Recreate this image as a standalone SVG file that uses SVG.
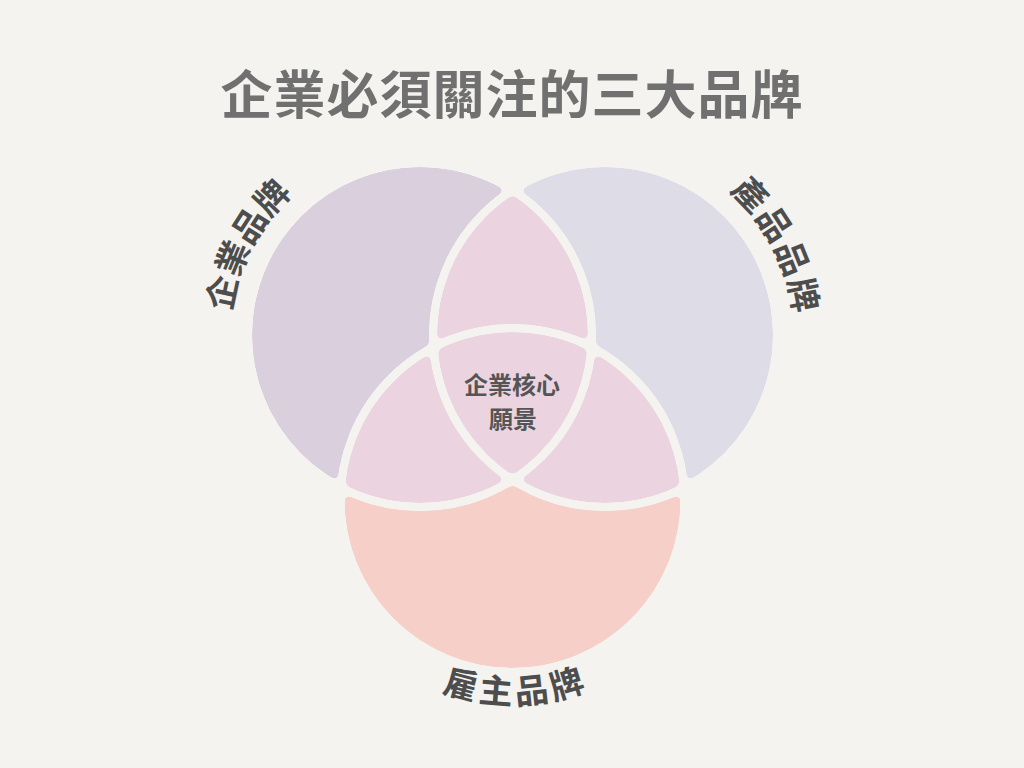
<svg xmlns="http://www.w3.org/2000/svg" xmlns:xlink="http://www.w3.org/1999/xlink" width="1024" height="768" viewBox="0 0 1024 768">
  <style>
    .title { font-family: "Noto Sans CJK TC", "Noto Sans CJK SC", sans-serif; font-size: 52px; font-weight: 700; fill: #707070; letter-spacing: 1px; }
    .label { font-family: "Noto Sans CJK TC", "Noto Sans CJK SC", sans-serif; font-size: 34px; font-weight: 700; fill: #4d4d4d; }
    .core { font-family: "Noto Sans CJK TC", "Noto Sans CJK SC", sans-serif; font-size: 24px; font-weight: 700; fill: #555555; }
    .gap { fill: none; stroke: #000; stroke-width: 8; }
  </style>
  <defs>
    <circle id="c1" cx="420" cy="335" r="172"/>
    <circle id="c2" cx="605" cy="335" r="172"/>
    <circle id="c3" cx="512.5" cy="500" r="172"/>
    <clipPath id="clip1"><use xlink:href="#c1"/></clipPath>
    <clipPath id="clip2"><use xlink:href="#c2"/></clipPath>
    <mask id="gaps" maskUnits="userSpaceOnUse" x="0" y="0" width="1024" height="768">
      <rect x="0" y="0" width="1024" height="768" fill="#fff"/>
      <use xlink:href="#c1" class="gap"/>
      <use xlink:href="#c2" class="gap"/>
      <use xlink:href="#c3" class="gap"/>
    </mask>
    <filter id="round" x="0" y="0" width="1024" height="768" filterUnits="userSpaceOnUse">
      <feGaussianBlur in="SourceAlpha" stdDeviation="3"/>
      <feComponentTransfer>
        <feFuncA type="linear" slope="14" intercept="-6.5"/>
      </feComponentTransfer>
      <feComposite in="SourceGraphic" operator="in"/>
    </filter>
    <path id="arcLeft" d="M 255.46 430 A 190 190 0 0 1 403.44 145.72"/>
    <path id="arcRight" d="M 621.56 145.72 A 190 190 0 0 1 769.54 430"/>
    <path id="arcBottom" d="M 335.83 602 A 204 204 0 0 0 689.17 602"/>
  </defs>

  <rect x="0" y="0" width="1024" height="768" fill="#f5f3ef"/>

  <text class="title" x="512" y="114" text-anchor="middle">企業必須關注的三大品牌</text>

  <g filter="url(#round)">
    <g mask="url(#gaps)">
      <g id="corporate-brand">
        <use xlink:href="#c1" fill="#d9cfdd"/>
      </g>
      <g id="product-brand">
        <use xlink:href="#c2" fill="#dedce6"/>
      </g>
      <g id="employer-brand">
        <use xlink:href="#c3" fill="#f6d0c8"/>
      </g>
      <g id="overlaps" fill="#ebd4e0">
        <use xlink:href="#c2" clip-path="url(#clip1)"/>
        <use xlink:href="#c3" clip-path="url(#clip1)"/>
        <use xlink:href="#c3" clip-path="url(#clip2)"/>
      </g>
    </g>
  </g>

  <g id="corporate-brand-label">
    <text class="label" letter-spacing="0"><textPath xlink:href="#arcLeft" startOffset="50%" text-anchor="middle">企業品牌</textPath></text>
  </g>
  <g id="product-brand-label">
    <text class="label" letter-spacing="2"><textPath xlink:href="#arcRight" startOffset="50%" text-anchor="middle">產品品牌</textPath></text>
  </g>
  <g id="employer-brand-label">
    <text class="label" letter-spacing="4"><textPath xlink:href="#arcBottom" startOffset="50.8%" text-anchor="middle">雇主品牌</textPath></text>
  </g>

  <g id="core-vision">
    <text class="core" x="512" y="394" text-anchor="middle">企業核心</text>
    <text class="core" x="513" y="428" text-anchor="middle">願景</text>
  </g>
</svg>
